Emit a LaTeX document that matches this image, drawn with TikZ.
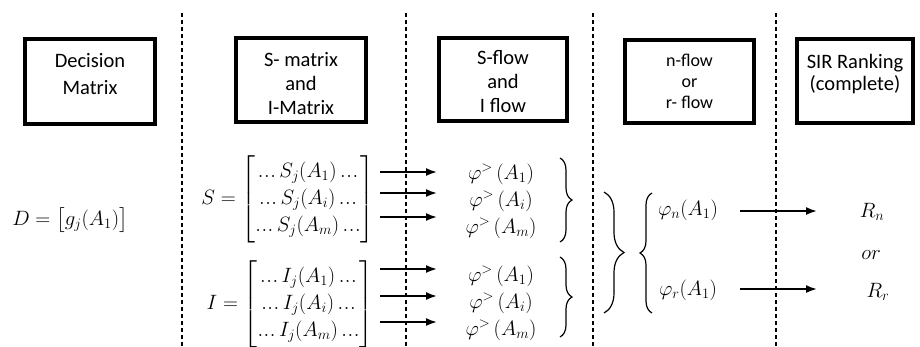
\documentclass[tikz,border=0pt]{standalone}
\usepackage{amsmath}
\usepackage{fontspec}
\setmainfont{Carlito}
\usetikzlibrary{arrows.meta,decorations.pathreplacing,calc}
\newcommand{\eld}{\mathinner{.\kern0.6pt.\kern0.6pt.}}
\begin{document}
\begin{tikzpicture}[x=1pt,y=-1pt,
  box/.style={draw, line width=4pt, inner sep=0pt},
  btext/.style={font=\fontsize{20.5}{24}\selectfont, align=center, inner sep=0pt},
  sepline/.style={dash pattern=on 4pt off 3pt, line width=1.2pt},
  arr/.style={-{Latex[length=11pt,width=8pt]}, line width=1.8pt},
  mth/.style={font=\fontsize{22}{27}\selectfont, inner sep=0pt},
  mtx/.style={font=\fontsize{20}{27}\selectfont, inner sep=0pt},
  brc/.style={decorate, decoration={brace, amplitude=#1}, line width=1.2pt}]
\useasboundingbox (0,0) rectangle (920,346);
% separators
\draw[sepline] (182,13) -- (182,346);
\draw[sepline] (406,13) -- (406,346);
\draw[sepline] (593,13) -- (593,346);
\draw[sepline] (776,13) -- (776,346);
% boxes
\node[box, minimum width=130pt, minimum height=85pt] (b1) at (90,81.5) {};
\node[box, minimum width=130pt, minimum height=84pt] (b2) at (301,80) {};
\node[box, minimum width=128pt, minimum height=83pt] (b3) at (503,79.5) {};
\node[box, minimum width=129pt, minimum height=83pt] (b4) at (689.5,81.5) {};
\node[box, minimum width=116pt, minimum height=84pt] (b5) at (855,81) {};
\node[btext, font=\fontsize{20.5}{27}\selectfont] (t1) at (90,74.5) {Decision\\Matrix};
\node[btext] (t2) at (301,83.5) {S- matrix\\and\\I-Matrix};
\node[btext] (t3) at (503,82) {S-flow\\and\\I flow};
\node[btext, font=\fontsize{18}{21}\selectfont] (t4) at (689.5,81) {n-flow\\or\\r- flow};
\node[btext, font=\fontsize{20.5}{22.5}\selectfont] (t5) at (855,74) {SIR Ranking\\(complete)};
% decision matrix
\node[mth] (D) at (70,220) {$D=\bigl[g_j(A_1)\bigr]$};
% S and I matrices
\node[mtx] (S) at (288,199) {$\setlength{\arraycolsep}{1pt}S=\begin{bmatrix}\eld S_j(A_1)\eld\\ \eld S_j(A_i)\eld\\ \eld S_j(A_m)\eld\end{bmatrix}$};
\node[mtx] (I) at (290,304) {$\setlength{\arraycolsep}{1pt}I=\begin{bmatrix}\eld I_j(A_1)\eld\\ \eld I_j(A_i)\eld\\ \eld I_j(A_m)\eld\end{bmatrix}$};
% flows
\node[mth] (p1) at (501,174) {$\varphi^{>}\,(A_1)$};
\node[mth] (p2) at (501,201) {$\varphi^{>}\,(A_i)$};
\node[mth] (p3) at (501,228) {$\varphi^{>}\,(A_m)$};
\node[mth] (p4) at (501,276) {$\varphi^{>}\,(A_1)$};
\node[mth] (p5) at (501,303) {$\varphi^{>}\,(A_i)$};
\node[mth] (p6) at (501,330) {$\varphi^{>}\,(A_m)$};
% arrows matrices -> flows
\foreach \i/\yy in {1/172,2/193,3/217,4/269,5/296,6/322}{
  \coordinate (as\i) at (380,\yy);
  \coordinate (ae\i) at (437,\yy);
  \draw[arr] (as\i) -- (ae\i);
}
% braces
\draw[brc=12pt] (560,158) -- (560,242);
\draw[brc=12pt] (560,257) -- (560,337);
\draw[brc=20pt] (604,192) -- (604,313);
\draw[brc=12pt] (652,313) -- (652,193);
% net flows
\node[mth] (pn) at (688,210) {$\varphi_n(A_1)$};
\node[mth] (pr) at (688,290) {$\varphi_r(A_1)$};
\coordinate (ns) at (740,211);
\coordinate (ne) at (817,211);
\coordinate (rs) at (740,289);
\coordinate (re) at (817,289);
\draw[arr] (ns) -- (ne);
\draw[arr] (rs) -- (re);
% rankings
\node[mth] (Rn) at (872,212) {$R_n$};
\node[mth] (or) at (871,255) {$or$};
\node[mth] (Rr) at (878,292) {$R_r$};
\end{tikzpicture}
\end{document}
